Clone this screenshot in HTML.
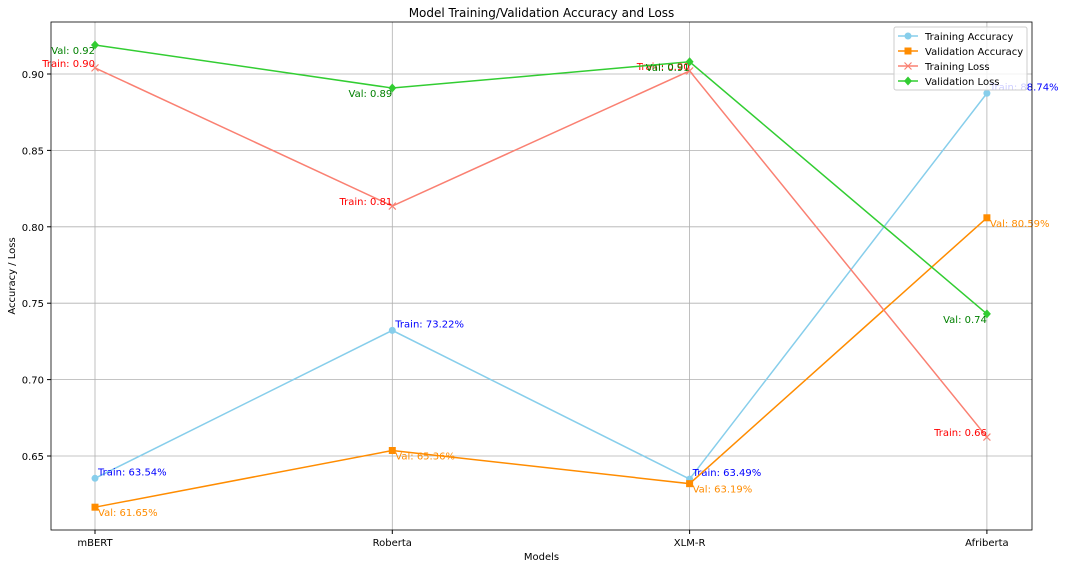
<!DOCTYPE html>
<html><head><meta charset="utf-8"><style>
body{margin:0;background:#fff;font-family:"Liberation Sans","DejaVu Sans",sans-serif;}
svg text{font-family:"DejaVu Sans","Liberation Sans",sans-serif;}
</style></head><body>
<svg id="c" width="1066" height="568" xmlns="http://www.w3.org/2000/svg"></svg>
<script>
const models=["mBERT","Roberta","XLM-R","Afriberta"];
const trainAcc=[0.6354,0.7322,0.6349,0.8874];
const valAcc=[0.6165,0.6536,0.6319,0.8059];
const trainLoss=[0.904,0.8136,0.902,0.6624];
const valLoss=[0.919,0.8908,0.908,0.743];
const yTicks=[0.65,0.70,0.75,0.80,0.85,0.90];
const L=51,R=1032,T=22,B=530;
const x=i=>95+i*297.3;
const y=v=>456-(v-0.65)*1528;
const NS="http://www.w3.org/2000/svg";
const svg=document.getElementById('c');
function mk(t,a,p){const e=document.createElementNS(NS,t);for(const k in a)e.setAttribute(k,a[k]);(p||svg).appendChild(e);return e;}
const grid=mk('g',{});


models.forEach((m,i)=>{mk('line',{x1:x(i),x2:x(i),y1:T,y2:B,stroke:'#b0b0b0','stroke-width':0.8},grid);
 mk('line',{x1:x(i),x2:x(i),y1:B,y2:B+4,stroke:'#000'});
 const t=mk('text',{x:x(i),y:B+16,'text-anchor':'middle','font-size':10});t.textContent=m;
 
 });
yTicks.forEach(v=>{mk('line',{x1:L,x2:R,y1:y(v),y2:y(v),stroke:'#b0b0b0','stroke-width':0.8},grid);
 mk('line',{x1:L-4,x2:L,y1:y(v),y2:y(v),stroke:'#000'});
 const t=mk('text',{x:L-7,y:y(v)+4,'text-anchor':'end','font-size':10});t.textContent=v.toFixed(2);
 
 });
const series=[
 {d:trainAcc,c:'#87ceeb',tc:'blue',m:'o',lab:v=>'Train: '+(v*100).toFixed(2)+'%',dx:3,dy:-3,anchor:'start',name:'training-accuracy'},
 {d:valAcc,c:'#ff8c00',tc:'#ff8c00',m:'s',lab:v=>'Val: '+(v*100).toFixed(2)+'%',dx:3,dy:9,anchor:'start',name:'validation-accuracy'},
 {d:trainLoss,c:'#fa8072',tc:'red',m:'x',lab:v=>'Train: '+v.toFixed(2),dx:0,dy:-1,anchor:'end',name:'training-loss'},
 {d:valLoss,c:'#32cd32',tc:'green',m:'d',lab:v=>'Val: '+v.toFixed(2),dx:0,dy:9,anchor:'end',name:'validation-loss'}];
function marker(m,cx,cy,c,g){
 if(m==='o')mk('circle',{cx,cy,r:3.5,fill:c},g);
 else if(m==='s')mk('rect',{x:cx-3.5,y:cy-3.5,width:7,height:7,fill:c},g);
 else if(m==='x'){mk('path',{d:`M${cx-3.5} ${cy-3.5}L${cx+3.5} ${cy+3.5}M${cx-3.5} ${cy+3.5}L${cx+3.5} ${cy-3.5}`,stroke:c,'stroke-width':1.2},g);}
 else mk('path',{d:`M${cx} ${cy-4.5}L${cx+4} ${cy}L${cx} ${cy+4.5}L${cx-4} ${cy}Z`,fill:c},g);}
series.forEach(s=>{
 const g=mk('g',{});
 
 
 mk('polyline',{points:s.d.map((v,i)=>x(i)+','+y(v)).join(' '),fill:'none',stroke:s.c,'stroke-width':1.5},g);
 s.d.forEach((v,i)=>{marker(s.m,x(i),y(v),s.c,g);
  const t=mk('text',{x:x(i)+s.dx,y:y(v)+s.dy,'text-anchor':s.anchor,'font-size':10,fill:s.tc},g);t.textContent=s.lab(v);
  
  });
});
mk('rect',{x:L,y:T,width:R-L,height:B-T,fill:'none',stroke:'#000','stroke-width':0.8});
const tt=mk('text',{x:(L+R)/2,y:17,'text-anchor':'middle','font-size':12});tt.textContent='Model Training/Validation Accuracy and Loss';


const xt=mk('text',{x:(L+R)/2,y:560,'text-anchor':'middle','font-size':10});xt.textContent='Models';


const yt=mk('text',{x:15,y:(T+B)/2,'text-anchor':'middle','font-size':10,transform:`rotate(-90 15 ${(T+B)/2})`});yt.textContent='Accuracy / Loss';


const lg=mk('g',{});


mk('rect',{x:894,y:27,width:133,height:63,rx:2,fill:'#fff','fill-opacity':0.8,stroke:'#ccc'},lg);
const names=['Training Accuracy','Validation Accuracy','Training Loss','Validation Loss'];
series.forEach((s,i)=>{const ly=36+i*15;
 mk('line',{x1:898,x2:918,y1:ly,y2:ly,stroke:s.c,'stroke-width':1.5},lg);
 marker(s.m,908,ly,s.c,lg);
 const t=mk('text',{x:925,y:ly+4,'font-size':10},lg);t.textContent=names[i];
 
 });
</script>
</body></html>
